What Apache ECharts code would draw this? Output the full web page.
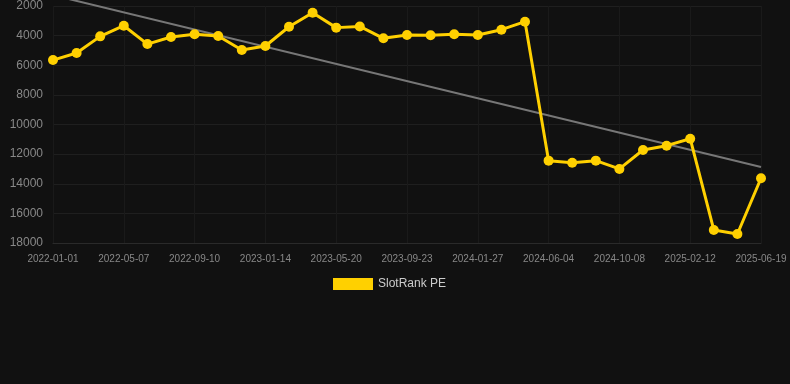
<!DOCTYPE html>
<html><head><meta charset="utf-8">
<script src="https://cdn.jsdelivr.net/npm/echarts@6/dist/echarts.min.js"></script>
<style>html,body{margin:0;padding:0;background:#111111;}#c{width:790px;height:384px;}</style>
</head><body><div id="c"></div>
<script>
const categories = ['2022-01-01','2022-02-12','2022-03-26','2022-05-07','2022-06-18','2022-07-30','2022-09-10','2022-10-22','2022-12-03','2023-01-14','2023-02-25','2023-04-08','2023-05-20','2023-07-01','2023-08-12','2023-09-23','2023-11-04','2023-12-16','2024-01-27','2024-03-09','2024-04-20','2024-06-04','2024-07-16','2024-08-27','2024-10-08','2024-11-19','2024-12-31','2025-02-12','2025-03-26','2025-05-07','2025-06-19'];
const rankValues = [5650,5170,4050,3330,4570,4090,3910,4030,4970,4700,3400,2450,3460,3380,4180,3960,3980,3910,3960,3600,3060,12440,12580,12440,13000,11720,11430,10960,17120,17390,13630];
const trendValues = [1270,null,null,null,null,null,null,null,null,null,null,null,null,null,null,null,null,null,null,null,null,null,null,null,null,null,null,null,null,null,12870];
const seriesName = 'SlotRank PE';
const yTicks = {min:2000,max:18000,interval:2000};

const chart = echarts.init(document.getElementById('c'));
chart.setOption({
  backgroundColor:'#111111',
  animation:false,
  grid:{left:53,right:29,top:6,bottom:141},
  legend:{data:[{name:seriesName,icon:'rect'}],top:273,left:328,itemWidth:40,itemHeight:12,itemGap:10,
    textStyle:{color:'#cccccc',fontSize:12,fontFamily:'Arial, Liberation Sans, sans-serif'}},
  xAxis:{type:'category',data:categories,boundaryGap:false,
    axisLine:{lineStyle:{color:'#2a2a2a'}},
    axisTick:{show:false},
    axisLabel:{interval:2,color:'#888888',fontSize:10,margin:11,fontFamily:'Arial, Liberation Sans, sans-serif'},
    splitLine:{show:true,interval:2,lineStyle:{color:'#1a1a1a'}}},
  yAxis:{type:'value',inverse:true,min:yTicks.min,max:yTicks.max,interval:yTicks.interval,
    axisLine:{show:false},axisTick:{show:false},
    axisLabel:{color:'#888888',fontSize:12,margin:10,formatter:v=>String(v),fontFamily:'Arial, Liberation Sans, sans-serif'},
    splitLine:{lineStyle:{color:'#1f1f1f'}}},
  series:[
    {name:'trend',type:'line',data:trendValues,connectNulls:true,clip:false,symbol:'none',
     lineStyle:{color:'#777777',width:2},z:1,silent:true},
    {name:seriesName,type:'line',data:rankValues,symbol:'circle',symbolSize:10,
     itemStyle:{color:'#FFD000'},lineStyle:{color:'#FFD000',width:3},z:2}
  ]
});
</script></body></html>
